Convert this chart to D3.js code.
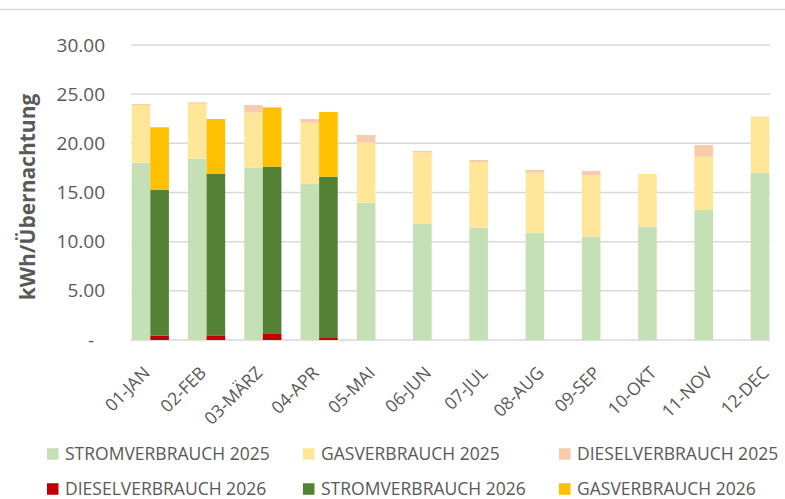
<!DOCTYPE html>
<meta charset="utf-8">
<head>
  <title>kWh pro Übernachtung</title>
</head>

<style>
body {
  margin: 0;
  background: #fff;
  font-family: "Open Sans", sans-serif;
}
</style>

<body>
  <svg width="785" height="499"></svg>

  <script src="https://cdnjs.cloudflare.com/ajax/libs/d3/7.8.5/d3.min.js"></script>

  <script>
// values (kWh / Übernachtung)
var months = ['01-JAN', '02-FEB', '03-MÄRZ', '04-APR', '05-MAI', '06-JUN',
  '07-JUL', '08-AUG', '09-SEP', '10-OKT', '11-NOV', '12-DEC'];

var strom2025 = [18.03, 18.44, 17.53, 15.86, 13.96, 11.80, 11.42, 10.91, 10.51, 11.52, 13.22, 17.01];
var gas2025 = [5.87, 5.59, 5.59, 6.24, 6.10, 7.25, 6.68, 6.10, 6.27, 5.36, 5.42, 5.65];
var diesel2025 = [0.10, 0.14, 0.78, 0.37, 0.79, 0.17, 0.21, 0.28, 0.41, 0, 1.19, 0.06];

var diesel2026 = [0.44, 0.47, 0.68, 0.20];
var strom2026 = [14.85, 16.45, 16.95, 16.41];
var gas2026 = [6.34, 5.55, 6.03, 6.58];

var yTicks = [0, 5, 10, 15, 20, 25, 30];

var legendItems = [
  {name: 'STROMVERBRAUCH 2025', color: '#C5E0B4'},
  {name: 'GASVERBRAUCH 2025', color: '#FFE699'},
  {name: 'DIESELVERBRAUCH 2025', color: '#F8CBAD'},
  {name: 'DIESELVERBRAUCH 2026', color: '#C00000'},
  {name: 'STROMVERBRAUCH 2026', color: '#548235'},
  {name: 'GASVERBRAUCH 2026', color: '#FFC000'}
];

var svg = d3.select('svg');
var textColor = '#595959';
var gridColor = '#D9D9D9';

var plotLeft = 131, plotRight = 770;
var barW = 18.6;

var x = d3.scalePoint()
  .domain(months)
  .range([141, 760]);

var y = d3.scaleLinear()
  .domain([0, 30])
  .range([340, 45]);

// top border of the chart area
svg.append('line')
  .attr('x1', 0).attr('x2', 785)
  .attr('y1', 9.5).attr('y2', 9.5)
  .attr('stroke', gridColor)
  .attr('stroke-width', 1.5);

// gridlines
svg.append('g')
  .selectAll('line')
  .data(yTicks)
  .join('line')
  .attr('x1', plotLeft).attr('x2', plotRight)
  .attr('y1', function(d) { return y(d); })
  .attr('y2', function(d) { return y(d); })
  .attr('stroke', gridColor)
  .attr('stroke-width', 1.5);

// y tick labels
svg.append('g')
  .selectAll('text')
  .data(yTicks)
  .join('text')
  .attr('x', function(d) { return d === 0 ? 94 : 105; })
  .attr('y', function(d) { return y(d); })
  .attr('dy', '0.35em')
  .attr('text-anchor', 'end')
  .attr('fill', textColor)
  .style('font-size', '19px')
  .text(function(d) { return d === 0 ? '-' : d3.format('.2f')(d); });

// y axis title
svg.append('text')
  .attr('transform', 'translate(35,197) rotate(-90)')
  .attr('text-anchor', 'middle')
  .attr('fill', textColor)
  .style('font-size', '21px')
  .style('font-weight', 'bold')
  .text('kWh/Übernachtung');

// stacks
var rows2025 = months.map(function(m, i) {
  return {month: m, strom: strom2025[i], gas: gas2025[i], diesel: diesel2025[i]};
});
var rows2026 = strom2026.map(function(v, i) {
  return {month: months[i], diesel: diesel2026[i], strom: strom2026[i], gas: gas2026[i]};
});

var stack2025 = d3.stack().keys(['strom', 'gas', 'diesel'])(rows2025);
var stack2026 = d3.stack().keys(['diesel', 'strom', 'gas'])(rows2026);

var colors2025 = {strom: '#C5E0B4', gas: '#FFE699', diesel: '#F8CBAD'};
var colors2026 = {diesel: '#C00000', strom: '#548235', gas: '#FFC000'};

function drawStack(series, colors, offset) {
  svg.append('g')
    .selectAll('g')
    .data(series)
    .join('g')
    .attr('fill', function(s) { return colors[s.key]; })
    .selectAll('rect')
    .data(function(s) { return s; })
    .join('rect')
    .attr('x', function(d) { return x(d.data.month) + offset; })
    .attr('width', barW)
    .attr('y', function(d) { return y(d[1]); })
    .attr('height', function(d) { return y(d[0]) - y(d[1]); });
}

drawStack(stack2025, colors2025, -barW / 2);
drawStack(stack2026, colors2026, barW / 2);

// x labels
svg.append('g')
  .selectAll('text')
  .data(months)
  .join('text')
  .attr('transform', function(d) { return 'translate(' + (x(d) + 10) + ',374) rotate(-45)'; })
  .attr('text-anchor', 'end')
  .attr('fill', textColor)
  .style('font-size', '17.5px')
  .text(function(d) { return d; });

// legend
var colX = [[47, 65], [303, 321], [559, 577]];
var rowY = [454, 489];

var legend = svg.append('g')
  .selectAll('g')
  .data(legendItems)
  .join('g')
  .attr('transform', function(d, i) {
    return 'translate(0,' + rowY[Math.floor(i / 3)] + ')';
  });

legend.append('rect')
  .attr('x', function(d, i) { return colX[i % 3][0]; })
  .attr('y', -5.75)
  .attr('width', 11.5)
  .attr('height', 11.5)
  .attr('fill', function(d) { return d.color; });

legend.append('text')
  .attr('x', function(d, i) { return colX[i % 3][1]; })
  .attr('dy', '0.35em')
  .attr('fill', textColor)
  .style('font-size', '17.5px')
  .text(function(d) { return d.name; });
  </script>
</body>
</html>
